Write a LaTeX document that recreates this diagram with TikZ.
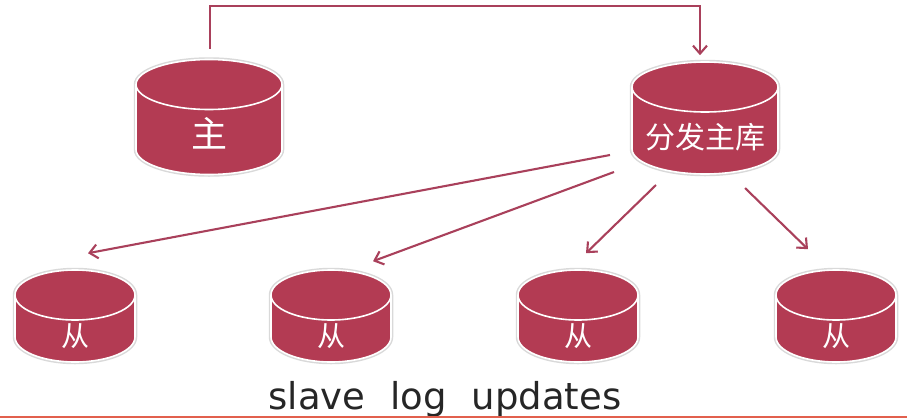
\documentclass[tikz,border=0pt]{standalone}
\usepackage{fontspec}
\setmainfont{DejaVu Sans}
\newfontfamily\cjk{Noto Sans CJK SC}
\usetikzlibrary{positioning,arrows.meta,shapes.geometric}
\definecolor{dbred}{HTML}{B33B53}
\definecolor{linkred}{HTML}{A9405B}
\definecolor{rulered}{HTML}{E2604E}

\begin{document}
\begin{tikzpicture}[
    x=1pt, y=-1pt,
    db/.style={cylinder, shape border rotate=90, aspect=7.5, anchor=shape center,
               minimum width=#1, minimum height=#1,
               fill=dbred, draw=white, line width=1.6pt,
               preaction={draw=black!15, line width=4.5pt}},
    dblabel/.style={text=white, inner sep=0pt, font=\cjk\fontsize{#1}{#1}\selectfont},
    link/.style={-{Straight Barb[length=8pt, width=14pt]}, line width=2.1pt, draw=linkred},
  ]
  \useasboundingbox (0,0) rectangle (907,418);

  % Master and hub
  \node[db=146pt, minimum height=115pt] (master) at (209,117) {};
  \node[db=146pt, minimum height=112pt] (hub) at (705,118) {};
  \node[dblabel=36pt] at ([shift={(0,16)}]master.shape center) {主};
  \node[dblabel=30pt] at ([shift={(0,19)}]hub.shape center) {分发主库};

  % Slaves
  \node[db=120pt, minimum height=92pt] (s1) at (75,316) {};
  \node[db=120pt, minimum height=92pt] (s2) at (331,316) {};
  \node[db=120pt, minimum height=92pt] (s3) at (578,316) {};
  \node[db=120pt, minimum height=92pt] (s4) at (836,316) {};
  \foreach \s in {s1,s2,s3,s4}
    \node[dblabel=28pt] at ([shift={(0,20)}]\s.shape center) {从};

  % Arrows
  \draw[link] ([shift={(1,-10)}]master.north) -- ++(0,-43) -| ([shift={(-5,-6)}]hub.north);
  \draw[link] ([shift={(-95,37)}]hub.shape center) -- ([shift={(13,-16)}]s1.north);
  \draw[link] ([shift={(-91,54)}]hub.shape center) -- ([shift={(42,-8)}]s2.north);
  \draw[link] ([shift={(-49,67)}]hub.shape center) -- ([shift={(8,-16)}]s3.north);
  \draw[link] ([shift={(40,70)}]hub.shape center) -- ([shift={(-28,-20)}]s4.north);

  % Caption
  \node[font=\fontsize{37pt}{37pt}\selectfont, text=black!85, anchor=base] (cap) at (445,409)
    {slave\hspace{25pt}log\hspace{25pt}updates};
  \fill[rulered] (0,415.5) rectangle (907,418);

\end{tikzpicture}
\end{document}
